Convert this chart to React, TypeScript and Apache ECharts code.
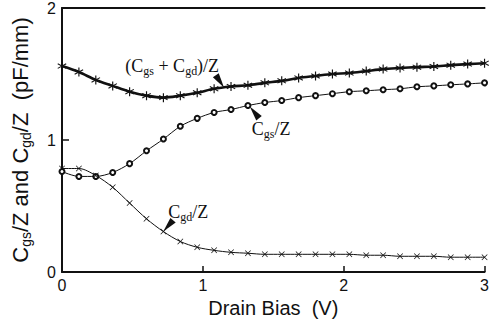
import React, { useEffect, useRef } from "react";
import * as echarts from "echarts";

// Drain bias (V) at each measured point
const biasV = [
  0, 0.12, 0.24, 0.36, 0.48, 0.6, 0.72, 0.84, 0.96, 1.08, 1.2, 1.32, 1.44,
  1.56, 1.68, 1.8, 1.92, 2.04, 2.16, 2.28, 2.4, 2.52, 2.64, 2.76, 2.88, 3.0,
];
// (Cgs + Cgd)/Z  (pF/mm)
const cgsPlusCgd = [
  1.56, 1.515, 1.455, 1.41, 1.366, 1.336, 1.321, 1.336, 1.358, 1.388, 1.405,
  1.415, 1.433, 1.448, 1.47, 1.485, 1.5, 1.507, 1.522, 1.537, 1.545, 1.552,
  1.557, 1.567, 1.575, 1.582,
];
// Cgs/Z (pF/mm)
const cgs = [
  0.761, 0.724, 0.724, 0.754, 0.821, 0.918, 1.007, 1.104, 1.164, 1.209, 1.231,
  1.261, 1.284, 1.299, 1.321, 1.336, 1.351, 1.366, 1.373, 1.381, 1.388, 1.403,
  1.41, 1.418, 1.425, 1.433,
];
// Cgd/Z (pF/mm)
const cgd = [
  0.784, 0.784, 0.731, 0.642, 0.522, 0.403, 0.306, 0.231, 0.187, 0.164, 0.149,
  0.142, 0.134, 0.134, 0.134, 0.134, 0.134, 0.134, 0.127, 0.127, 0.119, 0.119,
  0.119, 0.112, 0.112, 0.112,
];
const xTicks = [0, 1, 2, 3];
const yTicks = [0, 1, 2];

// annotation arrow tips (data coordinates) and label texts
const annotTips = [
  [1.151, 1.396],
  [1.333, 1.254],
  [0.719, 0.306],
];
const annotTexts = [
  "{m|(C}{s|gs}{m| + C}{s|gd}{m|)/Z}",
  "{m|C}{s|gs}{m|/Z}",
  "{m|C}{s|gd}{m|/Z}",
];

const ASTERISK =
  "path://M8.8,0L11.2,0L11.2,20L8.8,20Z M1.7,3.9L19.3,14.1L18.1,16.1L0.7,5.9Z M0.7,14.1L18.1,3.9L19.3,5.9L1.7,16.1Z";
const CROSS =
  "path://M2.71,1.29L18.71,17.29L17.29,18.71L1.29,2.71Z M18.71,2.71L2.71,18.71L1.29,17.29L17.29,1.29Z";

const INK = "#111";
const SANS = "Liberation Sans, Arial, sans-serif";
const SERIF = "Liberation Serif, Times New Roman, serif";

export default function App() {
  const ref = useRef<HTMLDivElement>(null);

  useEffect(() => {
    if (!ref.current) return;
    const chart = echarts.init(ref.current, undefined, { renderer: "svg" });
    const pts = (ys: number[]) => biasV.map((x, i) => [x, ys[i]]);

    chart.setOption({
      animation: false,
      backgroundColor: "#fff",
      grid: { left: 62, right: 1, top: 4, bottom: 53 },
      xAxis: [
        {
          type: "value",
          min: xTicks[0],
          max: xTicks[xTicks.length - 1],
          interval: 1,
          position: "bottom",
          name: "Drain Bias  (V)",
          nameLocation: "middle",
          nameGap: 26,
          nameTextStyle: { fontFamily: SANS, fontSize: 20, color: INK },
          axisLine: { show: true, onZero: false, lineStyle: { color: INK, width: 2 } },
          axisTick: { show: true, inside: true, length: 6, lineStyle: { color: INK, width: 1.5 } },
          axisLabel: { fontFamily: SANS, fontSize: 16, color: INK, margin: 5 },
          splitLine: { show: false },
        },
        {
          type: "value",
          min: xTicks[0],
          max: xTicks[xTicks.length - 1],
          interval: 1,
          position: "top",
          axisLine: { show: true, onZero: false, lineStyle: { color: INK, width: 2 } },
          axisTick: { show: false },
          axisLabel: { show: false },
          splitLine: { show: false },
        },
      ],
      yAxis: {
        type: "value",
        min: yTicks[0],
        max: yTicks[yTicks.length - 1],
        interval: 1,
        name: "{m|C}{s|gs}{m|/Z and C}{s|gd}{m|/Z  (pF/mm)}",
        nameLocation: "middle",
        nameGap: 29,
        nameTextStyle: {
          fontFamily: SANS,
          fontSize: 22,
          color: INK,
          rich: {
            m: { fontFamily: SANS, fontSize: 22, lineHeight: 26, color: INK },
            s: { fontFamily: SANS, fontSize: 14, lineHeight: 14, color: INK, verticalAlign: "bottom" },
          },
        },
        axisLine: { show: true, onZero: false, lineStyle: { color: INK, width: 2 } },
        axisTick: { show: true, inside: true, length: 7, lineStyle: { color: INK, width: 1.5 } },
        axisLabel: { fontFamily: SANS, fontSize: 16, color: INK, margin: 6 },
        splitLine: { show: false },
      },
      series: [
        {
          type: "line",
          name: "(Cgs + Cgd)/Z",
          data: pts(cgsPlusCgd),
          smooth: 0.3,
          showAllSymbol: true,
          symbol: ASTERISK,
          symbolSize: 9,
          itemStyle: { color: INK },
          lineStyle: { color: INK, width: 2.6 },
          z: 3,
        },
        {
          type: "line",
          name: "Cgs/Z",
          data: pts(cgs),
          smooth: 0.3,
          showAllSymbol: true,
          symbol: "emptyCircle",
          symbolSize: 5,
          itemStyle: { color: INK, borderColor: INK, borderWidth: 1 },
          lineStyle: { color: INK, width: 1 },
          z: 2,
        },
        {
          type: "line",
          name: "Cgd/Z",
          data: pts(cgd),
          smooth: 0.3,
          showAllSymbol: true,
          symbol: CROSS,
          symbolSize: 6,
          itemStyle: { color: INK },
          lineStyle: { color: INK, width: 1 },
          z: 2,
        },
      ],
    });

    // arrows + labels, anchored on data coordinates
    const dirs = [
      [10, 15],
      [-11, -14],
      [-12, 14],
    ];
    const labelOffsets = [
      { dx: -5, dy: -22, align: "right" },
      { dx: 2, dy: 23, align: "left" },
      { dx: 5, dy: -20, align: "left" },
    ];
    const rich = {
      m: { fontFamily: SERIF, fontSize: 18, lineHeight: 22, fill: INK },
      s: { fontFamily: SERIF, fontSize: 12, lineHeight: 12, fill: INK, verticalAlign: "bottom" },
    };
    const elements: any[] = [];
    annotTips.forEach((tip, i) => {
      const p = chart.convertToPixel({ xAxisIndex: 0, yAxisIndex: 0 }, tip) as number[];
      const [dx, dy] = dirs[i];
      const len = Math.hypot(dx, dy);
      const ux = dx / len;
      const uy = dy / len;
      const L = 15;
      const W = 3.5;
      const bx = p[0] - ux * L;
      const by = p[1] - uy * L;
      const nx = -uy;
      const ny = ux;
      elements.push({
        type: "polygon",
        shape: {
          points: [
            [p[0], p[1]],
            [bx + nx * W, by + ny * W],
            [bx - nx * W, by - ny * W],
          ],
        },
        style: { fill: INK },
        z: 10,
      });
      const o = labelOffsets[i];
      elements.push({
        type: "text",
        x: p[0] + o.dx,
        y: p[1] + o.dy,
        style: {
          text: annotTexts[i],
          rich,
          align: o.align,
          verticalAlign: "middle",
          fill: INK,
        },
        z: 10,
      });
    });
    chart.setOption({ graphic: elements });

    return () => chart.dispose();
  }, []);

  return (
    <div
      ref={ref}
      style={{ position: "fixed", left: 0, top: 0, width: 492, height: 325, background: "#fff" }}
    />
  );
}
